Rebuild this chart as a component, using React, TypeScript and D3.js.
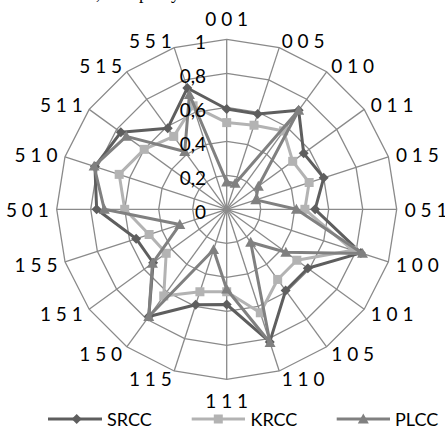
import React from "react";
import * as d3 from "d3";

const categories = ["001","005","010","011","015","051","100","101","105","110","111","115","150","151","155","501","510","511","515","551"];
const srcc = [0.59,0.59,0.72,0.56,0.60,0.52,0.83,0.59,0.59,0.82,0.56,0.59,0.78,0.535,0.56,0.765,0.815,0.77,0.59,0.75];
const krcc = [0.51,0.52,0.57,0.48,0.51,0.46,0.78,0.51,0.51,0.64,0.485,0.51,0.63,0.44,0.48,0.60,0.665,0.60,0.53,0.64];
const plcc = [0.16,0.16,0.72,0.23,0.18,0.41,0.84,0.43,0.24,0.825,0.47,0.25,0.78,0.54,0.29,0.72,0.82,0.73,0.42,0.71];
const tickValues = [0,0.2,0.4,0.6,0.8,1];
const tickLabels = ["0","0,2","0,4","0,6","0,8","1"];
const seriesNames = ["SRCC","KRCC","PLCC"];

const W = 445, H = 428;
const cx = 226.7, cy = 209.3, R = 170;
const FONT = "Lato, 'Open Sans', sans-serif";

const colors = ["#5e5e5e", "#b3b3b3", "#808080"];

export default function App() {
  const n = categories.length;
  const angle = d3.scaleLinear().domain([0, n]).range([0, 2 * Math.PI]);
  const r = d3.scaleLinear().domain([0, 1]).range([0, R]);
  const pt = (i: number, v: number): [number, number] => {
    const a = angle(i);
    return [cx + r(v) * Math.sin(a), cy - r(v) * Math.cos(a)];
  };
  const closed = d3.line<[number, number]>().curve(d3.curveLinearClosed);

  const rings = tickValues.filter(t => t > 0).map(t => closed(categories.map((_, i) => pt(i, t))) as string);
  const series = [srcc, krcc, plcc];

  const marker = (k: number, x: number, y: number, key: string) => {
    const c = colors[k];
    if (k === 0) {
      const s = 5;
      return <path key={key} d={`M${x},${y - s}L${x + s},${y}L${x},${y + s}L${x - s},${y}Z`} fill={c} />;
    }
    if (k === 1) {
      const s = 4.5;
      return <rect key={key} x={x - s} y={y - s} width={2 * s} height={2 * s} fill={c} />;
    }
    const s = 5.5;
    return <path key={key} d={`M${x},${y - s}L${x + s},${y + s * 0.8}L${x - s},${y + s * 0.8}Z`} fill={c} />;
  };

  const pad = 8;
  const legendItems = [
    { lx1: 48, lx2: 102, mx: 76.7, tx: 107 },
    { lx1: 191.7, lx2: 245, mx: 218.3, tx: 250.5 },
    { lx1: 336.7, lx2: 390, mx: 363.3, tx: 395 },
  ];
  const ly = 419;

  return (
    <svg width={W} height={H} style={{ position: "absolute", left: 0, top: 0, background: "#fff" }}>
      <rect width={W} height={H} fill="#fff" />
      <g fontFamily="'Times New Roman', 'Liberation Serif', serif" fontSize={18} fill="#000">
        <text x={96} y={-1}>,</text>
        <text x={139} y={-1}>p</text>
        <text x={171} y={-1}>y</text>
      </g>
      <g stroke="#8a8a8a" strokeWidth={1.3} fill="none">
        {rings.map((d, i) => <path key={i} d={d} />)}
        {categories.map((_, i) => {
          const [x, y] = pt(i, 1);
          return <line key={i} x1={cx} y1={cy} x2={x} y2={y} />;
        })}
      </g>
      <g fontFamily={FONT} fontSize={19} fill="#000">
        {categories.map((c, i) => {
          const a = angle(i);
          const s = Math.sin(a), co = Math.cos(a);
          const x = cx + (R + pad) * s;
          let y = cy - (R + pad) * co;
          let anchor = "middle";
          if (s > 0.1) anchor = "start";
          else if (s < -0.1) anchor = "end";
          else y -= co * 12.8;
          return (
            <text key={c} x={x} y={y} textAnchor={anchor} dominantBaseline="central">
              {c.split("").join(" ")}
            </text>
          );
        })}
      </g>
      {series.map((vals, k) => (
        <g key={k}>
          <path d={closed(vals.map((v, i) => pt(i, v))) as string} fill="none" stroke={colors[k]} strokeWidth={3} strokeLinejoin="round" />
          {vals.map((v, i) => {
            const [x, y] = pt(i, v);
            return marker(k, x, y, `${k}-${i}`);
          })}
        </g>
      ))}
      <g fontFamily={FONT} fontSize={19} fill="#000">
        {tickValues.map((t, i) => (
          <text key={i} x={206} y={cy - r(t) + 2.5} textAnchor="end" dominantBaseline="central">
            {tickLabels[i]}
          </text>
        ))}
      </g>
      <g fontFamily={FONT} fontSize={18} fill="#000">
        {legendItems.map((it, k) => (
          <g key={k}>
            <line x1={it.lx1} x2={it.lx2} y1={ly} y2={ly} stroke={colors[k]} strokeWidth={3} />
            {marker(k, it.mx, ly, `lg${k}`)}
            <text x={it.tx} y={ly} dominantBaseline="central">{seriesNames[k]}</text>
          </g>
        ))}
      </g>
    </svg>
  );
}
